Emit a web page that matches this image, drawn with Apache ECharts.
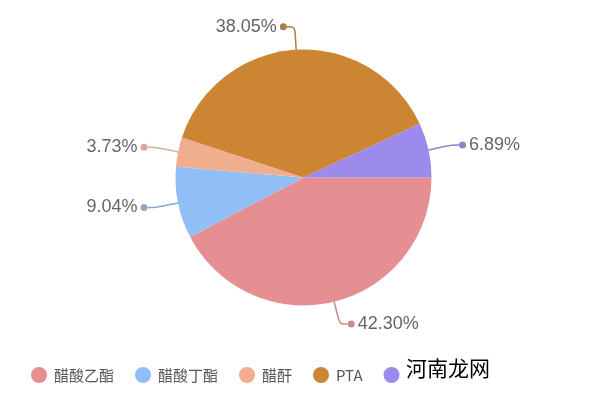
<!DOCTYPE html>
<html>
<head>
<meta charset="utf-8">
<script src="https://cdn.jsdelivr.net/npm/echarts@6/dist/echarts.min.js"></script>
<style>html,body{margin:0;padding:0;background:#fff}#c{width:600px;height:405px}</style>
</head>
<body>
<div id="c"></div>
<script>
var categories = ['醋酸乙酯', '醋酸丁酯', '醋酐', 'PTA', '其他'];
var values = [42.30, 9.04, 3.73, 38.05, 6.89];
var colors = ['#E58F93', '#92BEF8', '#F1AE8E', '#CB8533', '#9C8AEC'];
var lineColors = ['#c98c8f', '#8fa6c9', '#d6ab9a', '#a88048', '#8c86c9'];
var labelSide = ['right', 'left', 'left', 'left', 'right'];

var chart = echarts.init(document.getElementById('c'));
var data = categories.map(function (n, i) {
  var side = labelSide[i];
  return {
    name: n,
    value: values[i],
    itemStyle: { color: colors[i] },
    labelLine: { lineStyle: { color: lineColors[i], width: 1.5 } },
    label: {
      formatter: side === 'left'
        ? '{v|' + values[i].toFixed(2) + '%}{s|}{d' + i + '|}'
        : '{d' + i + '|}{s|}{v|' + values[i].toFixed(2) + '%}'
    }
  };
});
var rich = {
  v: { fontSize: 18, color: '#666', fontFamily: 'Liberation Sans, Noto Sans CJK SC, sans-serif' },
  s: { width: 3 }
};
lineColors.forEach(function (c, i) {
  rich['d' + i] = { width: 7, height: 7, borderRadius: 4, backgroundColor: c };
});

chart.setOption({
  animation: false,
  backgroundColor: '#fff',
  legend: {
    left: 26,
    top: 362,
    icon: 'circle',
    itemWidth: 16,
    itemHeight: 16,
    itemGap: 21,
    textStyle: { fontSize: 15, color: '#555', fontFamily: 'Noto Sans CJK SC, Liberation Sans, sans-serif', padding: [0, 0, 0, 2] },
    data: categories
  },
  series: [{
    type: 'pie',
    center: [303.5, 177.5],
    radius: 128,
    startAngle: 0,
    clockwise: true,
    data: data,
    label: {
      show: true,
      rich: rich,
      distanceToLabelLine: 0
    },
    labelLine: { length: 23, length2: 8, smooth: true }
  }],
  graphic: [{
    type: 'text',
    left: 403,
    top: 355,
    z: 100,
    style: {
      text: '{a|河南}{b|龙网}',
      backgroundColor: '#fff',
      padding: [3, 8, 6, 3],
      rich: {
        a: { fontSize: 21, color: '#E0632A', fontFamily: 'Noto Sans CJK SC, sans-serif' },
        b: { fontSize: 21, color: '#222', fontFamily: 'Noto Sans CJK SC, sans-serif' }
      }
    }
  }]
});
</script>
</body>
</html>
